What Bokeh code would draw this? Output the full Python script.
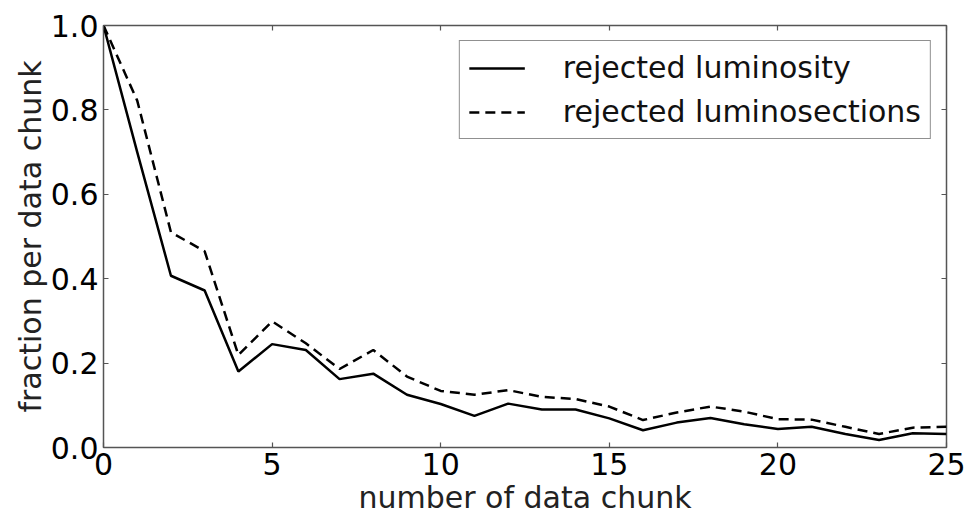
from bokeh.plotting import figure
from bokeh.models import Range1d, LinearAxis, FixedTicker, Legend, LegendItem
from bokeh.embed import file_html
from bokeh.resources import INLINE

chunk = list(range(26))
rej_lumi = [1.0, 0.70, 0.407, 0.372, 0.180, 0.245, 0.231, 0.162, 0.175, 0.125,
            0.103, 0.075, 0.104, 0.090, 0.090, 0.069, 0.041, 0.059, 0.070, 0.055,
            0.044, 0.049, 0.032, 0.018, 0.034, 0.032]
rej_ls = [1.0, 0.822, 0.510, 0.465, 0.219, 0.299, 0.247, 0.186, 0.231, 0.168,
          0.134, 0.125, 0.136, 0.120, 0.115, 0.097, 0.065, 0.083, 0.097, 0.085,
          0.067, 0.066, 0.049, 0.032, 0.047, 0.049]
x_ticks = [0, 5, 10, 15, 20, 25]
y_ticks = [0.0, 0.2, 0.4, 0.6, 0.8, 1.0]
y_tick_labels = {0.0: "0.0", 0.2: "0.2", 0.4: "0.4", 0.6: "0.6", 0.8: "0.8", 1.0: "1.0"}

FONT = "DejaVu Sans"
FRAME = "#555555"

p = figure(width=967, height=519, output_backend="svg", toolbar_location=None,
           x_range=Range1d(0, 25), y_range=Range1d(0, 1.0),
           min_border_left=103, min_border_right=21, min_border_top=25, min_border_bottom=72)
p.grid.visible = False
p.outline_line_color = FRAME
p.outline_line_width = 1.5
p.background_fill_color = "white"
p.border_fill_color = "white"

l1 = p.line(chunk, rej_lumi, line_color="black", line_width=2.5)
l2 = p.line(chunk, rej_ls, line_color="black", line_width=2.5, line_dash="10 6")

def style(ax):
    ax.axis_line_color = None
    ax.major_tick_in = 5
    ax.major_tick_out = 0
    ax.major_tick_line_color = FRAME
    ax.major_tick_line_width = 1.2
    ax.minor_tick_line_color = None
    ax.major_label_text_font = FONT
    ax.major_label_text_color = "black"
    ax.major_label_text_font_size = "30px"
    ax.axis_label_text_font = FONT
    ax.axis_label_text_font_style = "normal"
    ax.axis_label_text_color = "#222222"
    ax.axis_label_text_font_size = "30px"

xa = p.xaxis[0]
ya = p.yaxis[0]
xa.ticker = FixedTicker(ticks=x_ticks)
ya.ticker = FixedTicker(ticks=y_ticks)
ya.major_label_overrides = y_tick_labels
style(xa)
style(ya)
xa.axis_label = "number of data chunk"
ya.axis_label = "fraction per data chunk"
xa.major_label_standoff = 5
ya.major_label_standoff = 5
xa.axis_label_standoff = 2
ya.axis_label_standoff = 0

top = LinearAxis(ticker=FixedTicker(ticks=x_ticks))
right = LinearAxis(ticker=FixedTicker(ticks=y_ticks))
for ax, ticks in ((top, x_ticks), (right, y_ticks)):
    style(ax)
    ax.major_label_overrides = {t: "" for t in ticks}
    ax.major_label_standoff = 0
p.add_layout(top, "above")
p.add_layout(right, "right")

legend = Legend(items=[LegendItem(label="rejected luminosity", renderers=[l1]),
                       LegendItem(label="rejected luminosections", renderers=[l2])],
                location="top_right")
legend.margin = 15
legend.padding = 9
legend.spacing = 9
legend.label_height = 30
legend.glyph_height = 30
legend.glyph_width = 56
legend.label_standoff = 38
legend.label_text_font = FONT
legend.label_text_font_size = "30px"
legend.label_text_color = "#111111"
legend.border_line_color = "#222222"
legend.border_line_width = 1.2
legend.background_fill_alpha = 1.0
p.add_layout(legend, "center")

open("out.html", "w").write(file_html(p, INLINE))
